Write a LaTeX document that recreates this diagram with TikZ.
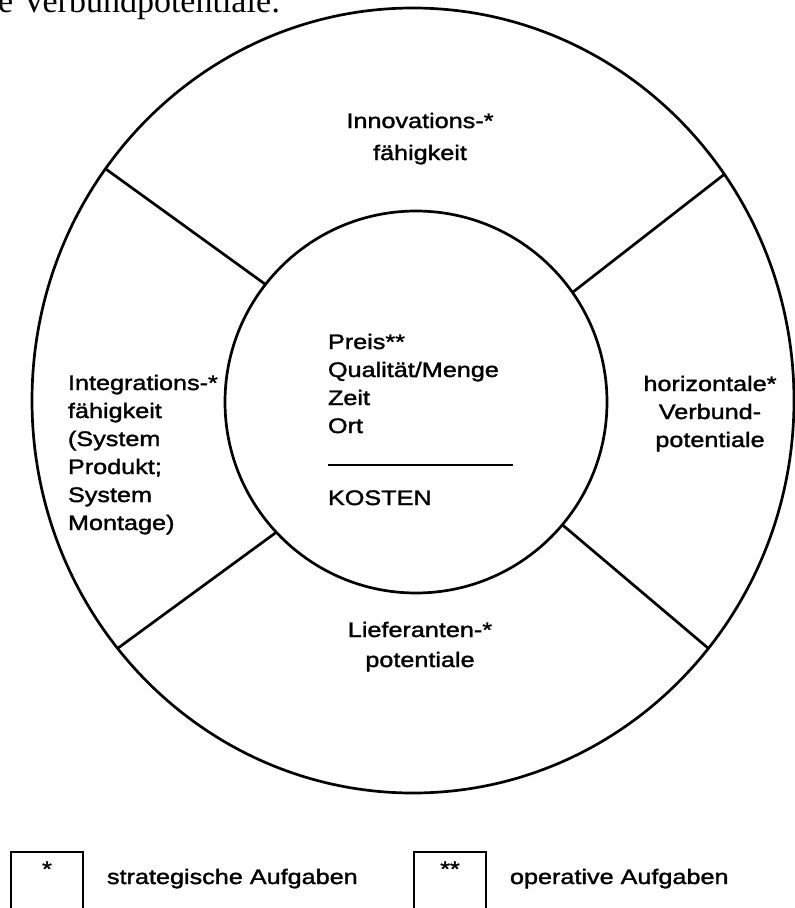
\documentclass[tikz,border=0pt]{standalone}
\usepackage{fontspec}
\setmainfont{Liberation Sans}[FakeStretch=1.2, FakeBold=1.6]
\newfontfamily\headserif{Liberation Serif}
\usetikzlibrary{shapes.geometric}
\begin{document}
\begin{tikzpicture}[x=1pt,y=-1pt,
  ring/.style={line width=2.7pt},
  txt/.style={font=\fontsize{21}{28}\selectfont, inner sep=0pt, outer sep=0pt},
  keybox/.style={draw, line width=1.8pt, minimum width=72pt, minimum height=64pt, inner sep=0pt},
]
\useasboundingbox (0,0) rectangle (795,908);

% running text of the page above the figure
\node[font=\headserif\fontsize{34}{40}\selectfont, anchor=base west, inner sep=0pt] (head) at (-2,12) {e Verbundpotentiale:};

% outer ring and inner core
\node[ellipse, draw, ring, minimum width=762pt, minimum height=785pt, inner sep=0pt, outer sep=0pt] (rim) at (413,400.5) {};
\node[circle, draw, ring, minimum size=382pt, inner sep=0pt, outer sep=0pt] (core) at (416,402) {};

% four spokes dividing the ring
\draw[ring] (core.142.5) -- (rim.143);
\draw[ring] (core.35.5) -- (rim.36);
\draw[ring] (core.223.3) -- (rim.220.6);
\draw[ring] (core.-40.6) -- (rim.-40.4);

% ring sectors (anchor base = baseline of the last line)
\node[txt, align=center, anchor=base, font=\fontsize{21}{32}\selectfont] (innov) at (420,160) {Innovations-*\\fähigkeit};
\node[txt, align=left, anchor=base west] (integ) at (68,530) {Integrations-*\\fähigkeit\\(System\\Produkt;\\System\\Montage)};
\node[txt, align=center, anchor=base] (horiz) at (710,447) {horizontale*\\Verbund-\\potentiale};
\node[txt, align=center, anchor=base, font=\fontsize{21}{30}\selectfont] (liefer) at (420,667) {Lieferanten-*\\potentiale};

% core contents
\node[txt, align=left, anchor=base west] (ops) at (328,433) {Preis**\\Qualität/Menge\\Zeit\\Ort};
\coordinate (ruleL) at (328,465);
\coordinate (ruleR) at (513,465);
\draw[line width=2pt] (ruleL) -- (ruleR);
\node[txt, anchor=base west] (kosten) at (328,505) {KOSTEN};

% legend
\node[keybox] (k1) at (47,884) {};
\node[txt, anchor=base] (k1s) at ([yshift=-25pt]k1.north) {*};
\node[txt, anchor=base west] (k1t) at (107,884) {strategische Aufgaben};
\node[keybox] (k2) at (450,884) {};
\node[txt, anchor=base] (k2s) at ([yshift=-25pt]k2.north) {**};
\node[txt, anchor=base west] (k2t) at (510,884) {operative Aufgaben};
\end{tikzpicture}
\end{document}
